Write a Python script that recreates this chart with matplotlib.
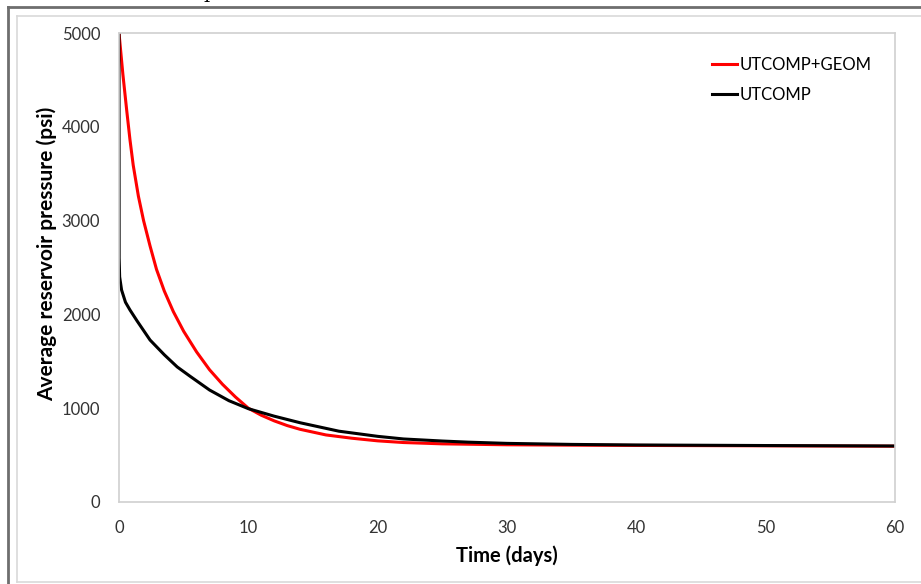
import numpy as np
import matplotlib
matplotlib.use("Agg")
import matplotlib.pyplot as plt
from matplotlib.lines import Line2D

# values
t_geom = [0, 0.3, 0.6, 0.85, 1.1, 1.5, 1.9, 2.4, 2.9, 3.5, 4.2, 5, 6, 7, 8, 9, 10,
          11, 12, 13, 14, 16, 18, 20, 22, 25, 30, 35, 40, 50, 60]
p_geom = [5000, 4560, 4170, 3860, 3590, 3260, 3000, 2730, 2480, 2250, 2030, 1820,
          1600, 1410, 1255, 1120, 1000, 925, 865, 815, 775, 715, 680, 652, 634, 620,
          610, 606, 603, 599, 595]

t_base = [0, 0.01, 0.05, 0.2, 0.5, 0.85, 1.4, 2.4, 3.5, 4.5, 5.5, 7, 8.5, 10, 12,
          14, 17, 20, 22, 25, 27, 30, 35, 40, 50, 60]
p_base = [5000, 2600, 2400, 2260, 2130, 2047, 1930, 1727, 1570, 1440, 1340, 1194,
          1080, 995, 915, 845, 755, 700, 672, 650, 638, 625, 614, 608, 602, 597]

x_ticks = [0, 10, 20, 30, 40, 50, 60]
y_ticks = [0, 1000, 2000, 3000, 4000, 5000]

W, H = 921, 584
plt.rcParams['font.family'] = ['Lato', 'DejaVu Sans']

fig = plt.figure(figsize=(W / 100, H / 100), dpi=100)
ax = fig.add_axes([119 / W, 1 - 502 / H, (895 - 119) / W, (502 - 33) / H])

ax.plot(t_geom, p_geom, color='#FF0000', lw=2.2, label='UTCOMP+GEOM',
        solid_joinstyle='round')
ax.plot(t_base, p_base, color='black', lw=2.2, label='UTCOMP',
        solid_joinstyle='round')

ax.set_xlim(0, 60)
ax.set_ylim(0, 5000)
ax.set_xticks(x_ticks)
ax.set_yticks(y_ticks)
ax.tick_params(length=0, labelsize=12, labelcolor='#333333')
ax.tick_params(axis='y', pad=13.5)
ax.tick_params(axis='x', pad=13)
for s in ax.spines.values():
    s.set_color('#D0D0D0')
    s.set_linewidth(1.2)

ax.set_xlabel('Time (days)', fontsize=14.5, fontweight='bold', labelpad=7)
ax.set_ylabel('Average reservoir pressure (psi)', fontsize=15, fontweight='bold')
ax.yaxis.set_label_coords((57 - 119) / 776, (502 - 254) / 469)

ax.legend(loc='upper left', bbox_to_anchor=((705 - 119) / 776, (502 - 50) / 469),
          frameon=False, fontsize=12, handlelength=1.5, handletextpad=0.2,
          labelspacing=0.85, borderaxespad=0)

# frame lines around the figure
def px_line(x0, y0, x1, y1, color, lw):
    fig.add_artist(Line2D([x0 / W, x1 / W], [1 - y0 / H, 1 - y1 / H],
                          transform=fig.transFigure, color=color, lw=lw))

px_line(8, 7, 8, H, '#6E6E6E', 2)
px_line(8, 7, W, 7, '#6E6E6E', 2)
px_line(17, 16, 17, 582, '#D9D9D9', 1.2)
px_line(17, 16, W, 16, '#D9D9D9', 1.2)
px_line(17, 582, W, 582, '#D9D9D9', 1.2)

# cut-off caption letter at the top edge
fig.text(203 / W, 1 + 1.5 / H, 'p', family='DejaVu Serif', fontsize=14,
         va='baseline')

fig.savefig('out.png', dpi=100)
